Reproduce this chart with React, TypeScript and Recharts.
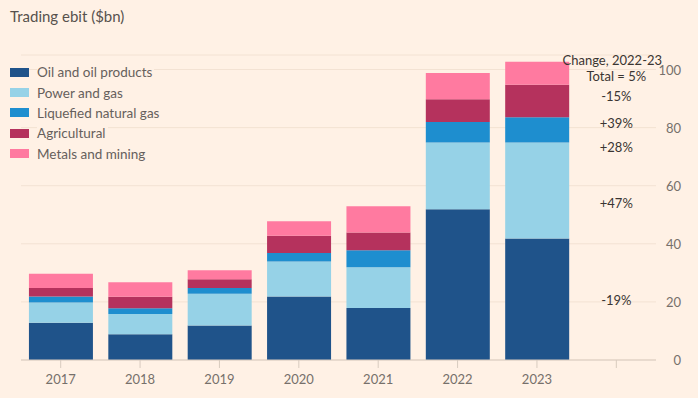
import { BarChart, Bar, XAxis, YAxis, CartesianGrid, ReferenceDot } from 'recharts'

const years = ['2017', '2018', '2019', '2020', '2021', '2022', '2023', ' ']
const oil = [12.8, 8.9, 11.9, 21.9, 17.9, 51.9, 41.8]
const power = [7.0, 6.9, 10.9, 12.0, 14.0, 23.0, 33.1]
const lng = [2.1, 2.0, 2.0, 2.9, 5.9, 7.0, 8.7]
const agri = [2.9, 4.0, 3.0, 6.0, 6.1, 7.9, 11.2]
const metals = [4.9, 5.0, 3.1, 5.0, 9.0, 9.0, 7.9]

const seriesKeys = ['oil', 'power', 'lng', 'agri', 'metals']
const seriesNames = ['Oil and oil products', 'Power and gas', 'Liquefied natural gas', 'Agricultural', 'Metals and mining']
const seriesColors = ['#1f538a', '#96d2e7', '#1e8ecf', '#b5325d', '#ff7aa0']

const yTicks = [0, 20, 40, 60, 80, 100]

// change 2022-23 notes, placed in the empty column at these y values
const changeLabels = ['Change, 2022-23', 'Total = 5%', '-15%', '+39%', '+28%', '+47%', '-19%']
const changeAt = [103.0, 97.8, 90.6, 81.4, 73.1, 53.8, 20.5]

const BG = '#fff1e5'
const FONT = "Lato, 'Noto Sans', sans-serif"

const data = years.map((year, i) => ({
  year,
  oil: oil[i],
  power: power[i],
  lng: lng[i],
  agri: agri[i],
  metals: metals[i],
}))

function YTick(props: any) {
  const { x, y, payload } = props
  return (
    <text x={x + 17} y={y} dy={5} textAnchor="end" fill="#76706b" fontSize={13} fontFamily={FONT}>
      {payload.value}
    </text>
  )
}

export default function App() {
  return (
    <div style={{ position: 'absolute', left: 0, top: 0, width: 698, height: 398, background: BG, fontFamily: FONT }}>
      <BarChart
        width={698}
        height={398}
        data={data}
        margin={{ top: 55, right: 0, bottom: 0, left: 21 }}
        barCategoryGap="10%"
      >
        <CartesianGrid vertical={false} stroke="#f3e2d3" />
        <XAxis
          dataKey="year"
          height={38}
          axisLine={{ stroke: '#d8cbbf' }}
          tickLine={{ stroke: '#d8cbbf' }}
          tickSize={8}
          tickMargin={7}
          tick={{ fill: '#76706b', fontSize: 13, fontFamily: FONT }}
          interval={0}
        />
        <YAxis
          orientation="right"
          width={42}
          domain={[0, 105]}
          ticks={yTicks}
          axisLine={false}
          tickLine={false}
          tick={<YTick />}
        />
        {seriesKeys.map((k, i) => (
          <Bar key={k} dataKey={k} name={seriesNames[i]} stackId="a" fill={seriesColors[i]} isAnimationActive={false} />
        ))}
        {changeLabels.map((t, i) => (
          <ReferenceDot
            key={t}
            x=" "
            y={changeAt[i]}
            r={0}
            stroke="none"
            fill="none"
            label={{ value: t, position: 'center', dx: i === 0 ? -4 : 0, fill: '#3a3532', fontSize: 13, fontFamily: FONT }}
          />
        ))}
      </BarChart>
      <div style={{ position: 'absolute', left: 10, top: 7, fontSize: 15, color: '#57514d' }}>Trading ebit ($bn)</div>
      <div style={{ position: 'absolute', left: 10, top: 62 }}>
        {seriesNames.map((n, i) => (
          <div key={n} style={{ height: 20.4, display: 'flex', alignItems: 'center' }}>
            <span style={{ display: 'inline-block', width: 19, height: 9, background: seriesColors[i], marginRight: 8 }} />
            <span style={{ fontSize: 13.5, color: '#66605c', background: BG, paddingRight: 2, lineHeight: '18px' }}>{n}</span>
          </div>
        ))}
      </div>
    </div>
  )
}
